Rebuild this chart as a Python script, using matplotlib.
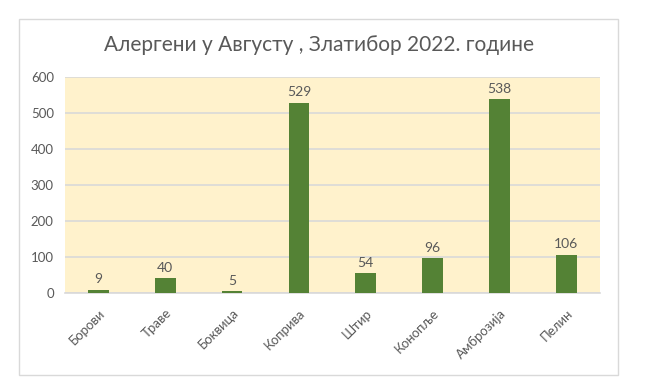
import matplotlib.pyplot as plt
from matplotlib.patches import Rectangle

kategorije = ["Борови", "Траве", "Боквица", "Коприва", "Штир", "Конопље", "Амброзија", "Пелин"]
vrednosti = [9, 40, 5, 529, 54, 96, 538, 106]
yticks = [0, 100, 200, 300, 400, 500, 600]

plt.rcParams['font.family'] = ['Lato', 'Open Sans', 'DejaVu Sans']
siva = "#595959"

fig = plt.figure(figsize=(6.62, 3.91), dpi=100)
# okvir grafikona
fig.patches.append(Rectangle((0.0287, 0.041), 0.905, 0.91, transform=fig.transFigure,
                             facecolor="white", edgecolor="#d9d9d9", lw=1, zorder=-1))

ax = fig.add_axes([0.098, 0.251, 0.808, 0.552])
ax.set_facecolor("#fff2cc")
x = range(len(kategorije))
bars = ax.bar(x, vrednosti, width=0.31, color="#548235", zorder=3)
for b, v in zip(bars, vrednosti):
    ax.text(b.get_x() + b.get_width() / 2, v + 12, str(v), ha="center", va="bottom",
            fontsize=10, color=siva)

ax.set_ylim(0, 600)
ax.set_xlim(-0.5, len(kategorije) - 0.5)
ax.set_yticks(yticks)
ax.set_yticklabels([str(t) for t in yticks], fontsize=9.5, color=siva)
ax.set_xticks(list(x))
ax.set_xticklabels(kategorije, rotation=45, ha="right", rotation_mode="anchor",
                   fontsize=9.5, color=siva)
ax.tick_params(length=0, pad=8)
ax.tick_params(axis="x", pad=10)
ax.grid(axis="y", color="#d9d9d9", lw=1.2, zorder=1)
for s in ["top", "right", "left"]:
    ax.spines[s].set_visible(False)
ax.spines["bottom"].set_color("#d9d9d9")
ax.spines["bottom"].set_linewidth(1.2)

fig.text(0.482, 0.885, "Алергени у Августу , Златибор 2022. године", ha="center", va="center",
         fontsize=15, color=siva)

plt.savefig("out.png", dpi=100)
